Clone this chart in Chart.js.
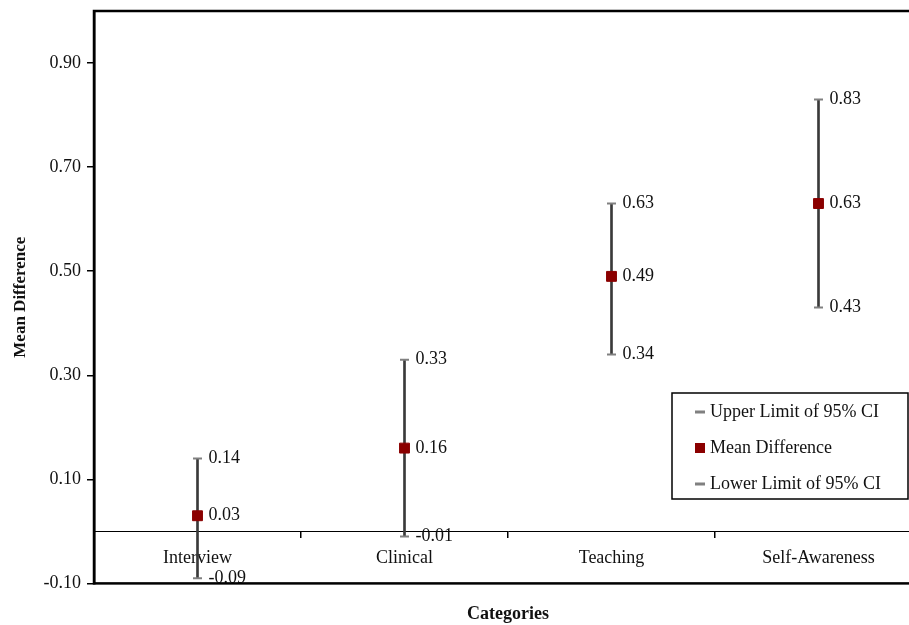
<!DOCTYPE html>
<html>
<head>
<meta charset="utf-8">
<title>Mean Difference by Category</title>
<script src="https://cdn.jsdelivr.net/npm/chart.js@4"></script>
<style>
  html, body { margin: 0; padding: 0; background: #fff; overflow: hidden; }
</style>
</head>
<body>
<canvas id="ciChart" width="930" height="625"></canvas>
<script>
// values
const categories = ['Interview', 'Clinical', 'Teaching', 'Self-Awareness'];
const meanDiff = [0.03, 0.16, 0.49, 0.63];
const upperCI = [0.14, 0.33, 0.63, 0.83];
const lowerCI = [-0.09, -0.01, 0.34, 0.43];
const yTicks = [-0.10, 0.10, 0.30, 0.50, 0.70, 0.90];

const serif = '"Liberation Serif", "Times New Roman", serif';
const capGray = '#808080';
const meanRed = '#8b0000';

// number next to every marker
const valueLabels = {
  id: 'valueLabels',
  afterDatasetsDraw(chart) {
    const ctx = chart.ctx;
    ctx.save();
    ctx.font = '18px ' + serif;
    ctx.fillStyle = '#111';
    ctx.textAlign = 'left';
    ctx.textBaseline = 'middle';
    chart.data.datasets.forEach((ds, i) => {
      if (!ds.showValues) return;
      chart.getDatasetMeta(i).data.forEach((pt, j) => {
        ctx.fillText(ds.data[j].toFixed(2), pt.x + 11, pt.y);
      });
    });
    ctx.restore();
  }
};

// thick frame round the plot area
const frame = {
  id: 'frame',
  afterDraw(chart) {
    const { ctx, chartArea } = chart;
    ctx.save();
    ctx.strokeStyle = '#000';
    ctx.lineWidth = 2.5;
    ctx.strokeRect(chartArea.left, chartArea.top, chartArea.right - chartArea.left, chartArea.bottom - chartArea.top);
    ctx.restore();
  }
};

// boxed legend inside the plot, lower right
const ciLegend = {
  id: 'ciLegend',
  afterDraw(chart) {
    const { ctx, chartArea } = chart;
    const items = chart.data.datasets.filter(d => d.inLegend);
    const x = chartArea.right - 250, y = chartArea.top + 382, w = 236, h = 106;
    ctx.save();
    ctx.fillStyle = '#fff';
    ctx.fillRect(x, y, w, h);
    ctx.strokeStyle = '#000';
    ctx.lineWidth = 1.5;
    ctx.strokeRect(x, y, w, h);
    ctx.font = '18px ' + serif;
    ctx.textBaseline = 'middle';
    items.forEach((d, i) => {
      const cy = y + 19 + i * 36;
      if (d.pointStyle === 'rect') {
        ctx.fillStyle = d.backgroundColor;
        ctx.fillRect(x + 23, cy - 5, 10, 10);
      } else {
        ctx.fillStyle = d.borderColor;
        ctx.fillRect(x + 23, cy - 1.5, 10, 3);
      }
      ctx.fillStyle = '#111';
      ctx.fillText(d.label, x + 38, cy);
    });
    ctx.restore();
  }
};

new Chart(document.getElementById('ciChart'), {
  type: 'bar',
  data: {
    labels: categories,
    datasets: [
      {
        type: 'line',
        label: 'Upper Limit of 95% CI',
        data: upperCI,
        showLine: false,
        pointStyle: 'line',
        pointRadius: 4.5,
        pointBorderWidth: 2,
        borderColor: capGray,
        backgroundColor: capGray,
        showValues: true,
        inLegend: true,
        order: 1
      },
      {
        type: 'line',
        label: 'Mean Difference',
        data: meanDiff,
        showLine: false,
        pointStyle: 'rect',
        pointRadius: 7,
        pointBorderWidth: 1,
        borderColor: meanRed,
        backgroundColor: meanRed,
        showValues: true,
        inLegend: true,
        order: 0
      },
      {
        type: 'line',
        label: 'Lower Limit of 95% CI',
        data: lowerCI,
        showLine: false,
        pointStyle: 'line',
        pointRadius: 4.5,
        pointBorderWidth: 2,
        borderColor: capGray,
        backgroundColor: capGray,
        showValues: true,
        inLegend: true,
        order: 1
      },
      {
        label: 'CI range',
        data: lowerCI.map((lo, i) => [lo, upperCI[i]]),
        backgroundColor: '#3a3a3a',
        borderWidth: 0,
        barThickness: 2,
        order: 5
      }
    ]
  },
  options: {
    responsive: false,
    animation: false,
    layout: { padding: { top: 11, right: 3, left: 0, bottom: 0 } },
    plugins: {
      legend: { display: false },
      tooltip: { enabled: false },
      title: {
        display: true,
        text: 'Categories',
        position: 'bottom',
        fullSize: false,
        color: '#111',
        font: { family: serif, size: 18, weight: 'bold' },
        padding: { top: 20, bottom: 0 }
      }
    },
    scales: {
      x: {
        position: { y: 0 },
        offset: true,
        border: { color: '#000', width: 1 },
        grid: { offset: true, drawOnChartArea: false, tickLength: 6, color: '#000', lineWidth: 1.5 },
        ticks: { color: '#111', padding: 10, font: { family: serif, size: 18 } }
      },
      y: {
        position: 'left',
        min: -0.1,
        max: 1.0,
        afterBuildTicks: scale => { scale.ticks = yTicks.map(v => ({ value: v })); },
        afterFit: scale => { scale.width = 94; scale.paddingTop = 0; },
        border: { color: '#000', width: 2.5 },
        grid: { drawOnChartArea: false, tickLength: 7, color: '#000', lineWidth: 1.5 },
        ticks: {
          color: '#111',
          padding: 6,
          font: { family: serif, size: 18 },
          callback: v => v.toFixed(2)
        },
        title: {
          display: true,
          text: 'Mean Difference',
          color: '#111',
          font: { family: serif, size: 17, weight: 'bold' },
          padding: { top: 10, bottom: 0 }
        }
      }
    }
  },
  plugins: [valueLabels, frame, ciLegend]
});
</script>
</body>
</html>
